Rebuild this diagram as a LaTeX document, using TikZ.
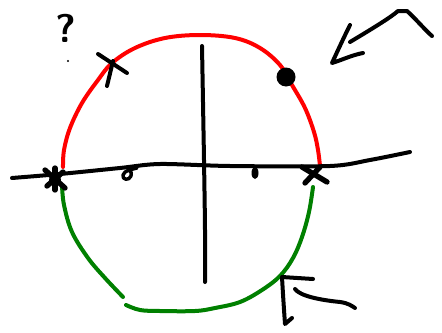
\documentclass[tikz,border=0pt]{standalone}
\usetikzlibrary{arrows.meta}
\begin{document}
\begin{tikzpicture}[x=0.75pt,y=-0.75pt,
  ink/.style={line width=3pt,line cap=round,line join=round,black},
  redarc/.style={line width=3pt,line cap=round,red},
  greenarc/.style={line width=3pt,line cap=round,green!50!black}]
\useasboundingbox[fill=white] (0,0) rectangle (442,332);
% red upper arc
\draw[redarc] plot[smooth,tension=0.6] coordinates {(63,167) (64,150) (70,128) (82,103) (98,80) (112,63) (135,48) (165,38) (200,35) (235,38) (260,48) (280,65) (292,85) (305,108) (314,132) (318,150) (320,166)};
% green lower arc
\draw[greenarc] plot[smooth,tension=0.6] coordinates {(62,185) (64,205) (72,232) (88,258) (105,278) (123,297)};
\draw[greenarc] plot[smooth,tension=0.6] coordinates {(126,305) (140,310) (160,311) (195,311) (215,308) (240,302) (262,290) (280,276) (293,258) (302,237) (309,212) (313,187)};
% axes
\draw[ink] plot[smooth,tension=0.5] coordinates {(12,178) (60,174) (120,168) (160,164) (230,166) (330,166) (370,160) (410,152)};
\draw[ink] plot[smooth] coordinates {(202,46) (204,160) (205,230) (205,282)};
% cross on arc
\coordinate (x1a) at (98,54); \coordinate (x1b) at (127,73);
\coordinate (x1c) at (113,61); \coordinate (x1d) at (107,86);
\draw[ink] (x1a) -- (x1b);
\draw[ink] (x1c) -- (x1d);
% question mark
\node[font=\fontsize{30}{30}\selectfont\sffamily\bfseries,inner sep=0pt] (q) at (66,28) {?};
\fill (68,61) circle (1.2);
% filled dot
\fill (286,77) circle (9.5);
% left blob on axis
\coordinate (lb) at (55,180);
\fill (lb) circle (6);
\draw[ink,line width=4pt] (45,170) -- (65,188);
\draw[ink,line width=4pt] (47,186) -- (63,172);
\draw[ink,line width=4pt] (55,168) -- (55,190);
% small loop mark
\draw[ink,line width=2.6pt] (137,168) .. controls (130,170) and (125,170) .. (123,175) .. controls (122,180) and (129,181) .. (131,176) .. controls (132,173) and (131,171) .. (129,170);
% small drop mark
\fill (255,173) ellipse (3.5 and 6);
% cross on axis
\draw[ink,line width=4pt] (302,167) -- (327,182);
\draw[ink,line width=4pt] (320,167) -- (305,183);
% top right arrow
\draw[ink] (350,42) .. controls (370,30) and (390,18) .. (398,11) -- (407,11) .. controls (415,18) and (425,30) .. (432,36);
\draw[ink] (350,25) .. controls (345,35) and (338,50) .. (332,63) .. controls (342,60) and (352,55) .. (363,53);
% bottom right arrow
\draw[ink] (313,279) -- (282,277) .. controls (283,295) and (284,310) .. (285,324) -- (292,318);
\draw[ink] (295,289) .. controls (300,296) and (320,300) .. (340,302) .. controls (348,303) and (352,306) .. (355,308);
\end{tikzpicture}
\end{document}
